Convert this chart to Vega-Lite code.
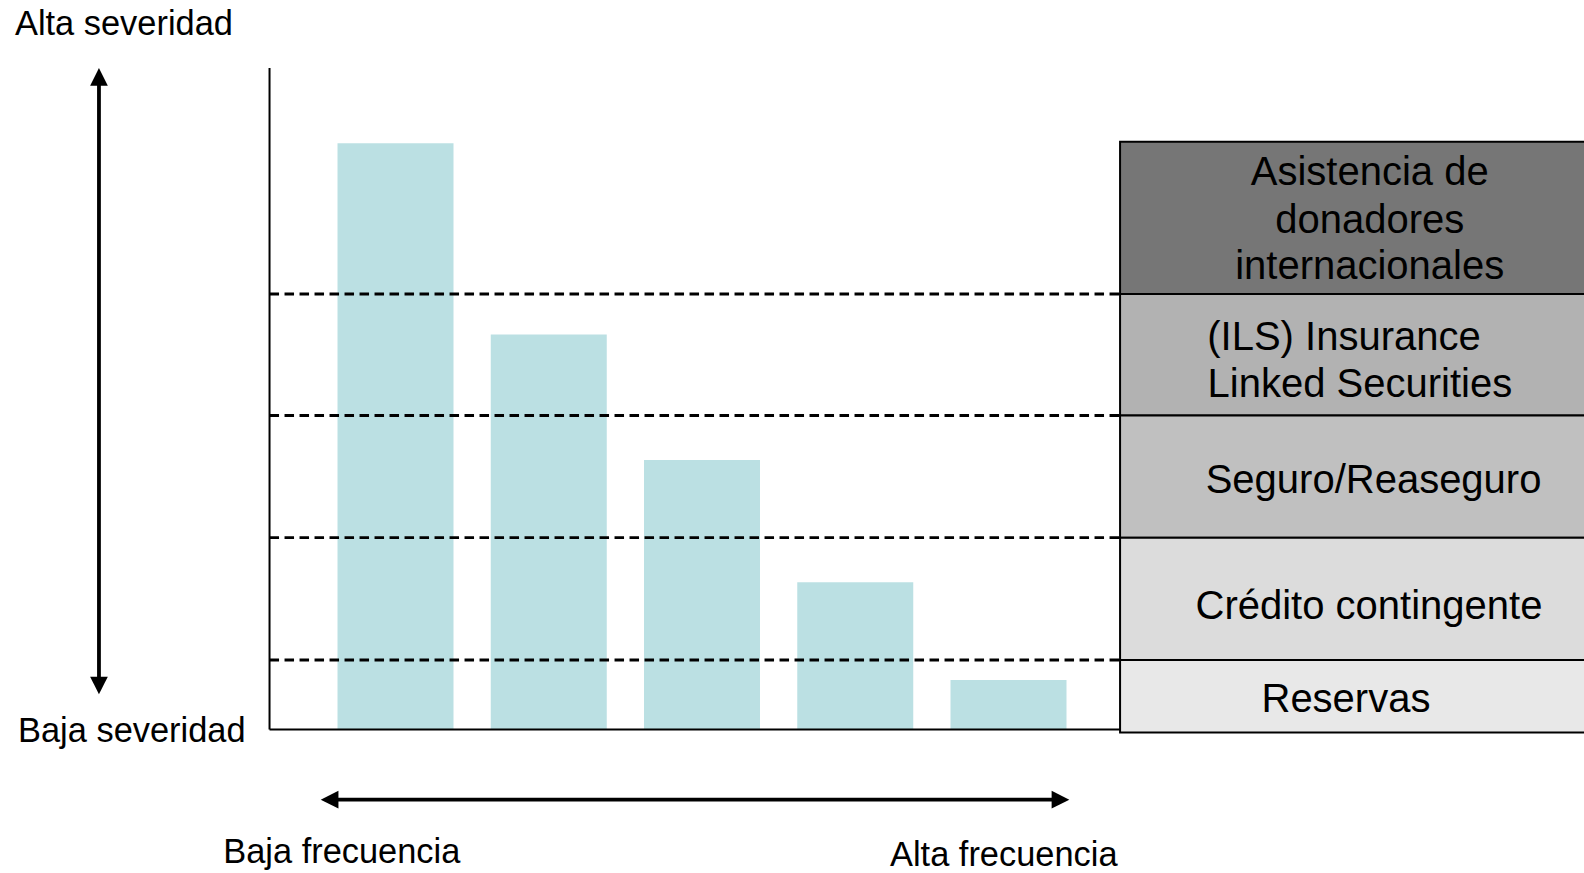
{
  "$schema": "https://vega.github.io/schema/vega-lite/v6.json",
  "width": 1584,
  "height": 873,
  "autosize": {"type": "none"},
  "padding": 0,
  "background": "white",
  "config": {
    "view": {"stroke": null},
    "text": {"font": "Liberation Sans, Arial, sans-serif", "color": "black"}
  },
  "datasets": {
    "barras": [
      {"frecuencia": 1, "severidad": 88.62},
      {"frecuencia": 2, "severidad": 59.73},
      {"frecuencia": 3, "severidad": 40.74},
      {"frecuencia": 4, "severidad": 22.25},
      {"frecuencia": 5, "severidad": 7.48}
    ],
    "capas": [
      {"instrumento": "Asistencia de donadores internacionales", "desde": 65.84, "hasta": 88.87},
      {"instrumento": "(ILS) Insurance Linked Securities", "desde": 47.47, "hasta": 65.84},
      {"instrumento": "Seguro/Reaseguro", "desde": 29.0, "hasta": 47.47},
      {"instrumento": "Crédito contingente", "desde": 10.51, "hasta": 29.0},
      {"instrumento": "Reservas", "desde": -0.45, "hasta": 10.51}
    ],
    "marco": [
      {"frecuencia": 0.178, "severidad": 0, "frecuencia2": 0.178, "severidad2": 100},
      {"frecuencia": 0.178, "severidad": 0, "frecuencia2": 5.728, "severidad2": 0}
    ],
    "flechas": [
      {"frecuencia": -0.935, "severidad": 6.8, "frecuencia2": -0.935, "severidad2": 98.5},
      {"frecuencia": 0.577, "severidad": -10.61, "frecuencia2": 5.332, "severidad2": -10.61}
    ],
    "puntas": [
      {"frecuencia": -0.935, "severidad": 100, "sentido": "arriba"},
      {"frecuencia": -0.935, "severidad": 5.32, "sentido": "abajo"},
      {"frecuencia": 0.512, "severidad": -10.61, "sentido": "izquierda"},
      {"frecuencia": 5.397, "severidad": -10.61, "sentido": "derecha"}
    ],
    "rotulos": [
      {"texto": "Alta severidad", "frecuencia": -1.483, "severidad": 105.0},
      {"texto": "Baja severidad", "frecuencia": -1.463, "severidad": -1.84},
      {"texto": "Baja frecuencia", "frecuencia": -0.124, "severidad": -20.18},
      {"texto": "Alta frecuencia", "frecuencia": 4.227, "severidad": -20.56}
    ],
    "nombres": [
      {"texto": "Asistencia de", "frecuencia": 7.357, "severidad": 82.31},
      {"texto": "donadores", "frecuencia": 7.357, "severidad": 75.01},
      {"texto": "internacionales", "frecuencia": 7.357, "severidad": 68.06},
      {"texto": "(ILS) Insurance", "frecuencia": 7.189, "severidad": 57.37},
      {"texto": "Linked Securities", "frecuencia": 7.293, "severidad": 50.31},
      {"texto": "Seguro/Reaseguro", "frecuencia": 7.382, "severidad": 35.71},
      {"texto": "Crédito contingente", "frecuencia": 7.352, "severidad": 16.66},
      {"texto": "Reservas", "frecuencia": 7.202, "severidad": 2.6}
    ]
  },
  "layer": [
    {
      "data": {"name": "barras"},
      "mark": {"type": "bar", "width": 116, "color": "#bbe0e3"},
      "encoding": {
        "x": {"field": "frecuencia", "type": "quantitative", "axis": null, "scale": {"domain": [-1.5808, 8.7553], "nice": false, "zero": false, "padding": 0}},
        "y": {"field": "severidad", "type": "quantitative", "axis": null, "scale": {"domain": [-21.69, 110.28], "nice": false, "zero": false, "padding": 0}},
        "y2": {"datum": 0}
      }
    },
    {
      "data": {"name": "capas"},
      "mark": {"type": "rect", "stroke": "black", "strokeWidth": 2, "opacity": 1},
      "encoding": {
        "x": {"datum": 5.728, "type": "quantitative", "axis": null, "scale": {"domain": [-1.5808, 8.7553], "nice": false, "zero": false, "padding": 0}},
        "x2": {"datum": 9.2},
        "y": {"field": "desde", "type": "quantitative", "axis": null, "scale": {"domain": [-21.69, 110.28], "nice": false, "zero": false, "padding": 0}},
        "y2": {"field": "hasta"},
        "color": {
          "field": "instrumento",
          "type": "nominal",
          "legend": null,
          "scale": {
            "domain": ["Asistencia de donadores internacionales", "(ILS) Insurance Linked Securities", "Seguro/Reaseguro", "Crédito contingente", "Reservas"],
            "range": ["#767676", "#b2b2b2", "#c0c0c0", "#dcdcdc", "#e8e8e8"]
          }
        }
      }
    },
    {
      "data": {"name": "capas"},
      "transform": [{"filter": "datum.desde > 0"}],
      "mark": {"type": "rule", "color": "black", "strokeWidth": 2.8, "strokeDash": [9.5, 5.5]},
      "encoding": {
        "x": {"datum": 0.178, "type": "quantitative", "axis": null, "scale": {"domain": [-1.5808, 8.7553], "nice": false, "zero": false, "padding": 0}},
        "x2": {"datum": 5.728},
        "y": {"field": "desde", "type": "quantitative", "axis": null, "scale": {"domain": [-21.69, 110.28], "nice": false, "zero": false, "padding": 0}}
      }
    },
    {
      "data": {"name": "marco"},
      "mark": {"type": "rule", "color": "black", "strokeWidth": 2},
      "encoding": {
        "x": {"field": "frecuencia", "type": "quantitative", "axis": null, "scale": {"domain": [-1.5808, 8.7553], "nice": false, "zero": false, "padding": 0}},
        "x2": {"field": "frecuencia2"},
        "y": {"field": "severidad", "type": "quantitative", "axis": null, "scale": {"domain": [-21.69, 110.28], "nice": false, "zero": false, "padding": 0}},
        "y2": {"field": "severidad2"}
      }
    },
    {
      "data": {"name": "flechas"},
      "mark": {"type": "rule", "color": "black", "strokeWidth": 3.8},
      "encoding": {
        "x": {"field": "frecuencia", "type": "quantitative", "axis": null, "scale": {"domain": [-1.5808, 8.7553], "nice": false, "zero": false, "padding": 0}},
        "x2": {"field": "frecuencia2"},
        "y": {"field": "severidad", "type": "quantitative", "axis": null, "scale": {"domain": [-21.69, 110.28], "nice": false, "zero": false, "padding": 0}},
        "y2": {"field": "severidad2"}
      }
    },
    {
      "data": {"name": "puntas"},
      "mark": {"type": "point", "filled": true, "color": "black", "opacity": 1, "size": 313, "strokeWidth": 0},
      "encoding": {
        "x": {"field": "frecuencia", "type": "quantitative", "axis": null, "scale": {"domain": [-1.5808, 8.7553], "nice": false, "zero": false, "padding": 0}},
        "y": {"field": "severidad", "type": "quantitative", "axis": null, "scale": {"domain": [-21.69, 110.28], "nice": false, "zero": false, "padding": 0}},
        "shape": {
          "field": "sentido",
          "type": "nominal",
          "legend": null,
          "scale": {
            "domain": ["arriba", "abajo", "izquierda", "derecha"],
            "range": ["M0,0L1,2L-1,2Z", "M0,0L-1,-2L1,-2Z", "M0,0L2,-1L2,1Z", "M0,0L-2,1L-2,-1Z"]
          }
        }
      }
    },
    {
      "data": {"name": "rotulos"},
      "mark": {"type": "text", "align": "left", "baseline": "alphabetic", "fontSize": 34.4},
      "encoding": {
        "x": {"field": "frecuencia", "type": "quantitative", "axis": null, "scale": {"domain": [-1.5808, 8.7553], "nice": false, "zero": false, "padding": 0}},
        "y": {"field": "severidad", "type": "quantitative", "axis": null, "scale": {"domain": [-21.69, 110.28], "nice": false, "zero": false, "padding": 0}},
        "text": {"field": "texto"}
      }
    },
    {
      "data": {"name": "nombres"},
      "mark": {"type": "text", "align": "center", "baseline": "alphabetic", "fontSize": 40},
      "encoding": {
        "x": {"field": "frecuencia", "type": "quantitative", "axis": null, "scale": {"domain": [-1.5808, 8.7553], "nice": false, "zero": false, "padding": 0}},
        "y": {"field": "severidad", "type": "quantitative", "axis": null, "scale": {"domain": [-21.69, 110.28], "nice": false, "zero": false, "padding": 0}},
        "text": {"field": "texto"}
      }
    }
  ]
}
